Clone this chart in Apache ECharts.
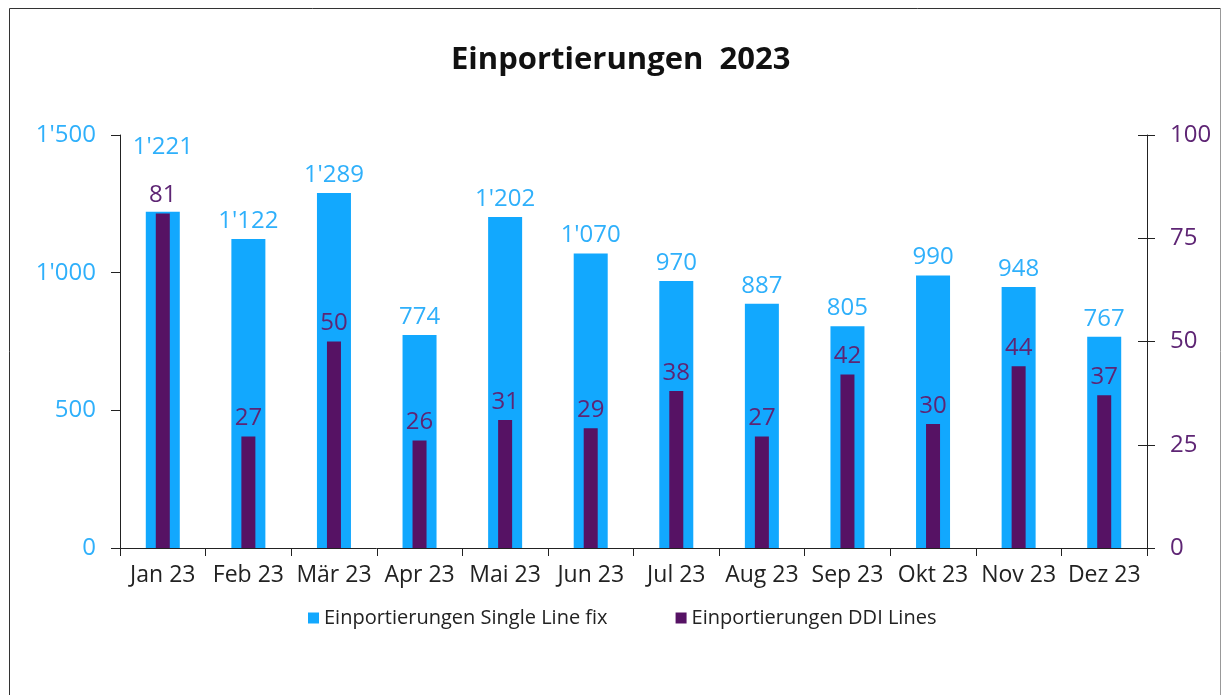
<!DOCTYPE html>
<html>
<head>
<meta charset="utf-8">
<script src="https://cdn.jsdelivr.net/npm/echarts@6/dist/echarts.min.js"></script>
<style>html,body{margin:0;padding:0;background:#fff}#c{width:1222px;height:695px}</style>
</head>
<body>
<div id="c"></div>
<script>
const categories = ['Jan 23','Feb 23','Mär 23','Apr 23','Mai 23','Jun 23','Jul 23','Aug 23','Sep 23','Okt 23','Nov 23','Dez 23'];
const singleLine = [1221,1122,1289,774,1202,1070,970,887,805,990,948,767];
const ddiLines = [81,27,50,26,31,29,38,27,42,30,44,37];
const leftTicks = [0,500,1000,1500];
const rightTicks = [0,25,50,75,100];
const seriesNames = ['Einportierungen Single Line fix','Einportierungen DDI Lines'];

const BLUE = '#12A8FE', PURPLE = '#561264';
const FONT = 'Open Sans';
const fmt = v => String(v).replace(/\B(?=(\d{3})+(?!\d))/g, "'");

const chart = echarts.init(document.getElementById('c'));
const blueData = singleLine.map((v, i) => i === 0 ? {value: v, label: {offset: [0, -47]}} : v);

chart.setOption({
  animation: false,
  textStyle: {fontFamily: FONT},
  title: {
    text: 'Einportierungen  2023', left: 446, top: 40,
    textStyle: {fontFamily: FONT, fontSize: 31, fontWeight: 'bold', color: '#111'}
  },
  legend: {
    bottom: 62, left: 303, itemWidth: 11, itemHeight: 11, itemGap: 68,
    icon: 'rect', textStyle: {fontFamily: FONT, fontSize: 20, color: '#222'},
    data: seriesNames
  },
  grid: {left: 120, right: 75, top: 135, bottom: 147},
  xAxis: [
    {
      type: 'category', data: categories,
      axisLine: {lineStyle: {color: '#222', width: 1}},
      axisTick: {show: true, length: 8, interval: 0, lineStyle: {color: '#222'}},
      axisLabel: {fontFamily: FONT, fontSize: 23, color: '#222', margin: 16, interval: 0}
    },
    {
      type: 'category', data: categories, show: false, position: 'bottom'
    }
  ],
  yAxis: [
    {
      type: 'value', min: 0, max: 1500, interval: 500, position: 'left',
      axisLine: {show: true, lineStyle: {color: '#222'}},
      axisTick: {show: true, length: 9, lineStyle: {color: '#222'}},
      splitLine: {show: false},
      axisLabel: {fontFamily: FONT, fontSize: 24, color: '#2FB0FB', margin: 24, formatter: v => fmt(v)}
    },
    {
      type: 'value', min: 0, max: 100, interval: 25, position: 'right',
      axisLine: {show: true, lineStyle: {color: '#222'}},
      axisTick: {show: true, length: 8, lineStyle: {color: '#222'}},
      splitLine: {show: false},
      axisLabel: {fontFamily: FONT, fontSize: 24, color: '#5E2574', margin: 23}
    },
    {
      type: 'value', min: 0, max: 100, interval: 25, position: 'right',
      axisLine: {show: false},
      axisTick: {show: true, inside: true, length: 9, lineStyle: {color: '#222'}},
      splitLine: {show: false},
      axisLabel: {show: false}
    }
  ],
  series: [
    {
      name: seriesNames[0], type: 'bar', xAxisIndex: 0, yAxisIndex: 0, data: blueData,
      barWidth: 34, itemStyle: {color: BLUE},
      label: {show: true, position: 'top', distance: 6, fontFamily: FONT, fontSize: 24, color: '#2FB0FB', formatter: p => fmt(p.value)}
    },
    {
      name: seriesNames[1], type: 'bar', xAxisIndex: 1, yAxisIndex: 1, data: ddiLines,
      barWidth: 14, itemStyle: {color: PURPLE}, z: 3,
      label: {show: true, position: 'top', distance: 6, fontFamily: FONT, fontSize: 24, color: '#5E2574'}
    }
  ],
  graphic: [
    {type: 'line', shape: {x1: 9.5, y1: 8.5, x2: 1220.5, y2: 8.5}, style: {stroke: '#333', lineWidth: 1}},
    {type: 'line', shape: {x1: 9.5, y1: 8.5, x2: 9.5, y2: 695}, style: {stroke: '#333', lineWidth: 1}},
    {type: 'line', shape: {x1: 1220.5, y1: 8.5, x2: 1220.5, y2: 695}, style: {stroke: '#999', lineWidth: 1}}
  ]
});
</script>
</body>
</html>
